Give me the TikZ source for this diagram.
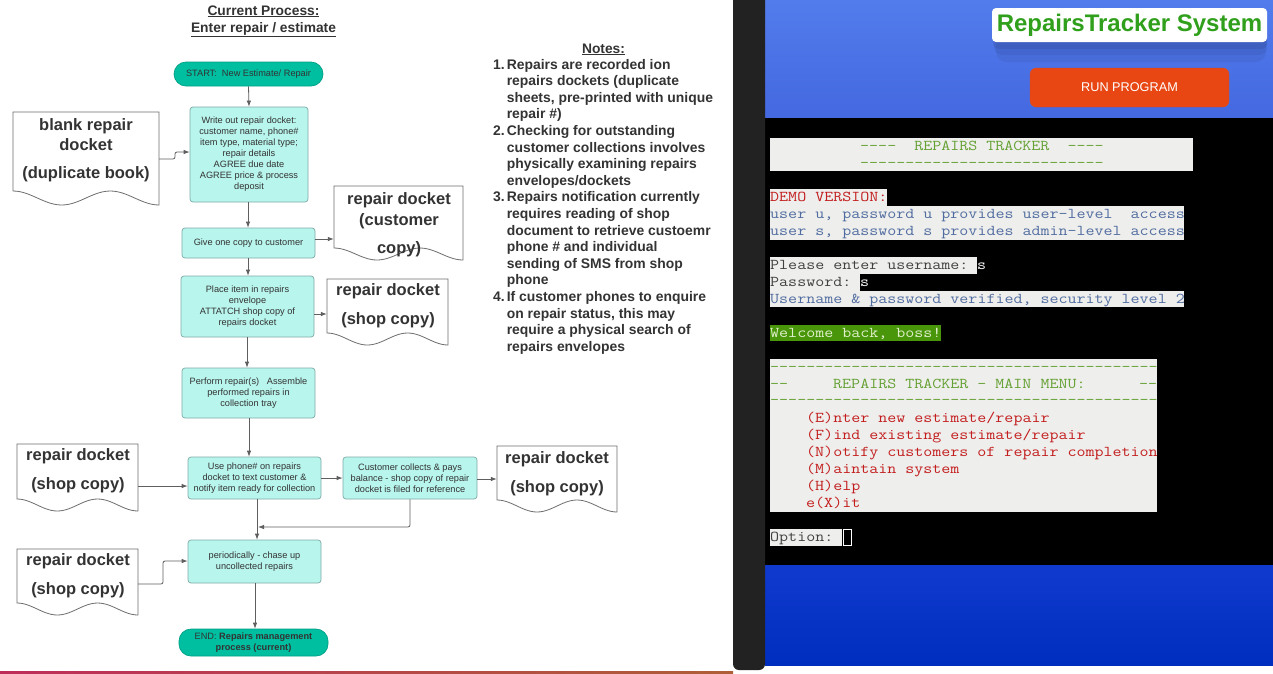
\documentclass[tikz,border=0pt]{standalone}
\usepackage{fontspec}
\usepackage{graphicx}
\setmainfont{Liberation Sans}
\usetikzlibrary{arrows.meta}
\definecolor{txt}{RGB}{51,51,51}
\definecolor{boxfill}{RGB}{184,245,237}
\definecolor{boxedge}{RGB}{125,170,165}
\definecolor{termfill}{RGB}{0,190,160}
\definecolor{termedge}{RGB}{0,160,135}
\definecolor{docedge}{RGB}{110,110,110}
\definecolor{linec}{RGB}{95,95,95}
\definecolor{barc}{RGB}{34,34,34}
\definecolor{blueA}{RGB}{82,124,236}
\definecolor{blueB}{RGB}{68,104,224}
\definecolor{blueC}{RGB}{16,58,206}
\definecolor{blueD}{RGB}{0,46,190}
\definecolor{ttlgreen}{RGB}{48,160,28}
\definecolor{btn}{RGB}{232,70,18}
\definecolor{tgreen}{RGB}{100,160,50}
\definecolor{tred}{RGB}{195,30,30}
\definecolor{tblue}{RGB}{80,108,160}
\definecolor{tdark}{RGB}{65,65,65}
\definecolor{tbg}{RGB}{238,238,236}
\definecolor{wbg}{RGB}{74,150,10}
\definecolor{wtxt}{RGB}{225,240,205}
\definecolor{lineL}{RGB}{190,45,90}
\definecolor{lineR}{RGB}{175,95,55}
\newcommand\dsh[1]{\foreach\i in {1,...,#1}{\mbox{-}}}
\newcommand\T[1]{\scalebox{1.1667}[1]{#1}}
\newcommand\docshape[6]{%
  \draw[docline] (#2,{#5-#6}) -- (#2,#3) -- (#4,#3) -- (#4,#5) --
    plot[variable=\t,domain=0:1,samples=40] ({#4-\t*(#4-#2)},{#5-#6/2-#6/2*cos(540*(1-\t))}) -- cycle;
  \node[docbox, minimum width={(#4-#2)*1pt}, minimum height={(#5-#3)*1pt}] (#1) at ({(#2+#4)/2},{(#3+#5)/2}) {};
}
\begin{document}
\begin{tikzpicture}[x=1pt,y=-1pt,
  proc/.style={draw=boxedge, fill=boxfill, rounded corners=3pt, line width=0.7pt, inner sep=1pt, align=center, font=\fontsize{9.2}{11}\selectfont, text=txt},
  termnode/.style={proc, draw=termedge, fill=termfill, rounded corners=12pt},
  docline/.style={draw=docedge, fill=white, line width=0.8pt},
  docbox/.style={inner sep=0pt},
  doctxt/.style={font=\fontsize{16.5}{20}\selectfont\bfseries, text=txt, inner sep=0pt, anchor=base},
  conn/.style={draw=linec, line width=0.8pt, -{Latex[length=6pt,width=4.5pt]}},
  tt/.style={font=\fontsize{15}{17}\selectfont\ttfamily, inner sep=0pt, anchor=base west},
  ttl/.style={font=\fontsize{13.8}{17}\selectfont\bfseries, text=txt, inner sep=0pt, anchor=base}
]
\useasboundingbox (0,0) rectangle (1273,673);
\fill[white] (0,0) rectangle (1273,673);

% ---------------- left: flowchart ----------------
\node[ttl] (title1) at (263.5,15) {\underline{Current Process:}};
\node[ttl] (title2) at (263.5,32) {\underline{Enter repair / estimate}};

\node[termnode, minimum width=149pt, minimum height=24pt] (start) at (248.5,74) {START:\ \ New Estimate/ Repair};
\node[proc, minimum width=118pt, minimum height=95pt] (b1) at (249,154.5) {Write out repair docket:\\customer name, phone\#\\item type, material type;\\repair details\\AGREE due date\\AGREE price \& process\\deposit};
\node[proc, minimum width=133pt, minimum height=30pt] (b2) at (248.5,243) {Give one copy to customer};
\node[proc, minimum width=133pt, minimum height=61pt] (b3) at (247.5,306.5) {Place item in repairs\\envelope\\ATTATCH shop copy of\\repairs docket};
\node[proc, minimum width=133pt, minimum height=50pt] (b4) at (248.5,393) {Perform repair(s)\ \ \ Assemble\\performed repairs in\\collection tray};
\node[proc, minimum width=133pt, minimum height=42pt] (b5) at (254.5,478) {Use phone\# on repairs\\docket to text customer \&\\notify item ready for collection};
\node[proc, minimum width=134pt, minimum height=42pt] (b6) at (410,478) {Customer collects \& pays\\balance - shop copy of repair\\docket is filed for reference};
\node[proc, minimum width=133pt, minimum height=43pt] (b7) at (254.5,561.5) {periodically - chase up\\uncollected repairs};
\node[termnode, minimum width=149pt, minimum height=27pt] (end) at (253.5,642.5) {END: \textbf{Repairs management}\\\textbf{process (current)}};

\docshape{dbl}{13}{112}{159}{205}{14}
\docshape{dcust}{334}{186}{463}{260}{12}
\docshape{dshop}{327}{279}{448}{345}{12}
\docshape{dla}{17}{444}{138}{511}{12}
\docshape{dlb}{17}{549}{138}{615}{12}
\docshape{dr}{497}{446}{617}{512}{12}

\node[doctxt] (dbl1) at (86,130) {blank repair};
\node[doctxt] (dbl2) at (86,150) {docket};
\node[doctxt] (dbl3) at (86,178) {(duplicate book)};
\node[doctxt] (dcu1) at (399,204) {repair docket};
\node[doctxt] (dcu2) at (399,225) {(customer};
\node[doctxt] (dcu3) at (399,253) {copy)};
\node[doctxt] (dsh1) at (388,295) {repair docket};
\node[doctxt] (dsh2) at (388,324) {(shop copy)};
\node[doctxt] (dla1) at (78,460) {repair docket};
\node[doctxt] (dla2) at (78,489) {(shop copy)};
\node[doctxt] (dlb1) at (78,565) {repair docket};
\node[doctxt] (dlb2) at (78,594) {(shop copy)};
\node[doctxt] (dr1) at (557,463) {repair docket};
\node[doctxt] (dr2) at (557,492) {(shop copy)};

% connectors
\draw[conn] (start.south) -- (b1.north);
\draw[conn] (b1.south -| 248,0) -- (b2.north -| 248,0);
\draw[conn] (b2.south -| 248,0) -- (b3.north -| 248,0);
\draw[conn] (b3.south -| 247,0) -- (b4.north -| 247,0);
\draw[conn] (b4.south -| 249,0) -- (b5.north -| 249,0);
\draw[conn] (b5.south -| 257,0) -- (b7.north -| 257,0);
\draw[conn] (b7.south -| 255,0) -- (end.north -| 255,0);
\draw[conn, rounded corners=2pt] (dbl.east |- 0,159) -- (175,159) -- (175,152) -- (b1.west |- 0,152);
\draw[conn] (b2.east |- 0,239) -- (dcust.west |- 0,239);
\draw[conn] (b3.east |- 0,314) -- (dshop.west |- 0,314);
\draw[conn] (dla.east |- 0,486) -- (b5.west |- 0,486);
\draw[conn] (b5.east |- 0,478) -- (b6.west |- 0,478);
\draw[conn] (b6.east |- 0,479) -- (dr.west |- 0,479);
\draw[conn, rounded corners=2pt] (b6.south -| 410,0) -- (410,527) -- (258,527);
\draw[conn, rounded corners=2pt] (dlb.east |- 0,584) -- (163,584) -- (163,561) -- (b7.west |- 0,561);

% notes
\node[ttl] (notesT) at (603.5,53) {\underline{Notes:}};
\node[font=\fontsize{13.9}{16.6}\selectfont\bfseries, text=txt, inner sep=0pt, anchor=base west] (notes) at (493,69) {%
\begin{tabular}[t]{@{}l@{\hspace{2pt}}l@{}}
1. & Repairs are recorded ion\\
   & repairs dockets (duplicate\\
   & sheets, pre-printed with unique\\
   & repair \#)\\
2. & Checking for outstanding\\
   & customer collections involves\\
   & physically examining repairs\\
   & envelopes/dockets\\
3. & Repairs notification currently\\
   & requires reading of shop\\
   & document to retrieve custoemr\\
   & phone \# and individual\\
   & sending of SMS from shop\\
   & phone\\
4. & If customer phones to enquire\\
   & on repair status, this may\\
   & require a physical search of\\
   & repairs envelopes
\end{tabular}};

\shade[left color=lineL, right color=lineR] (0,671) rectangle (733,673);

% ---------------- right: application screen ----------------
\shade[top color=blueA, bottom color=blueB] (765,0) rectangle (1273,118);
\begin{scope}
\clip (765,0) rectangle (1273,118);
\fill[black, opacity=0.05, rounded corners=10pt] (996,16) rectangle (1266,62);
\fill[black, opacity=0.06, rounded corners=8pt] (994,14) rectangle (1267,55);
\fill[black, opacity=0.07, rounded corners=6pt] (993,12) rectangle (1267,49);
\end{scope}
\node[draw=none, fill=white, rounded corners=4pt, minimum width=275pt, minimum height=34pt, inner sep=0pt, font=\fontsize{24}{28}\selectfont\bfseries, text=ttlgreen] (apptitle) at (1129.5,25) {RepairsTracker System};
\node[draw={rgb,255:red,205;green,85;blue,60}, fill=btn, rounded corners=6pt, minimum width=199pt, minimum height=39pt, inner sep=0pt, font=\fontsize{12.7}{15}\selectfont, text=white] (runbtn) at (1129.5,87.5) {RUN PROGRAM};

\fill[black] (765,118) rectangle (1273,565);
\shade[top color=blueC, bottom color=blueD] (765,565) rectangle (1273,665);
\fill[barc, rounded corners=6pt] (733,-10) -- (765,-10) -- (765,670) -- (733,670) -- cycle;

% terminal content
\fill[tbg] (770,138) rectangle (1193,171);
\node[tt,text=tgreen] (th1) at (860,150.5) {\T{\dsh{4}\ \ REPAIRS TRACKER\ \ \dsh{4}}};
\node[tt,text=tgreen] (th2) at (860,167.5) {\T{\dsh{27}}};
\fill[tbg] (770,189) rectangle (887,205.5);
\node[tt,text=tred] (tdemo) at (770,201.5) {\T{DEMO VERSION:}};
\fill[tbg] (770,205.5) rectangle (1184,239.5);
\node[tt,text=tblue] (tu1) at (770,218.5) {\T{user u, password u provides user-level\ \ access}};
\node[tt,text=tblue] (tu2) at (770,235.5) {\T{user s, password s provides admin-level access}};
\fill[tbg] (770,257) rectangle (977,273.5);
\node[tt,text=tdark] (tp1) at (770,269.5) {\T{Please enter username:}};
\node[tt,text=white] (tp1s) at (977,269.5) {\T{s}};
\fill[tbg] (770,274) rectangle (860,290.5);
\node[tt,text=tdark] (tp2) at (770,286.5) {\T{Password:}};
\node[tt,text=white] (tp2s) at (860,286.5) {\T{s}};
\fill[tbg] (770,290.5) rectangle (1184,307);
\node[tt,text=tblue] (tver) at (770,303.5) {\T{Username \& password verified, security level 2}};
\fill[wbg] (770,325) rectangle (941,341);
\node[tt,text=wtxt] (twel) at (770,337.5) {\T{Welcome back, boss!}};
\fill[tbg] (770,359) rectangle (1157,512);
\node[tt,text=tgreen] (tm1) at (770,371.5) {\T{\dsh{43}}};
\node[tt,text=tgreen] (tm2a) at (770,388.5) {\T{\dsh{2}}};
\node[tt,text=tgreen] (tm2b) at (833,388.5) {\T{REPAIRS TRACKER - MAIN MENU:}};
\node[tt,text=tgreen] (tm2c) at (1139,388.5) {\T{\dsh{2}}};
\node[tt,text=tgreen] (tm3) at (770,404.5) {\T{\dsh{43}}};
\node[tt,text=tred] (me) at (806,422.5) {\T{(E)nter new estimate/repair}};
\node[tt,text=tred] (mf) at (806,439.5) {\T{(F)ind existing estimate/repair}};
\node[tt,text=tred] (mn) at (806,456.5) {\T{(N)otify customers of repair completion}};
\node[tt,text=tred] (mm) at (806,473.5) {\T{(M)aintain system}};
\node[tt,text=tred] (mh) at (806,490.5) {\T{(H)elp}};
\node[tt,text=tred] (mx) at (806,507.5) {\T{e(X)it}};
\fill[tbg] (770,529) rectangle (842,546);
\node[tt,text=tdark] (topt) at (770,541.5) {\T{Option:}};
\draw[white, line width=1pt] (843.5,529.5) rectangle (851,545.5);
\end{tikzpicture}
\end{document}
